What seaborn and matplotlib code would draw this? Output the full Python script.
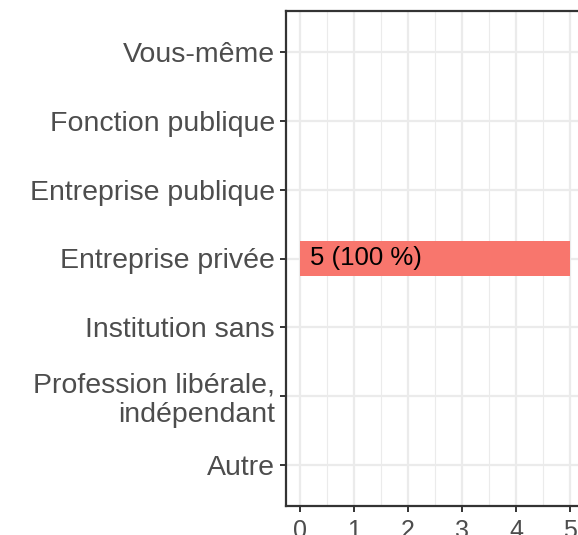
import matplotlib
matplotlib.use("Agg")
import matplotlib.pyplot as plt
import seaborn as sns
import pandas as pd
from matplotlib.ticker import MultipleLocator

categories = ["Vous-même", "Fonction publique", "Entreprise publique",
              "Entreprise privée", "Institution sans",
              "Profession libérale,\nindépendant", "Autre"]
counts = [0, 0, 0, 5, 0, 0, 0]
labels = ["", "", "", "5 (100 %)", "", "", ""]

sns.set_theme(style="white")
plt.rcParams['font.family'] = ['Liberation Sans', 'DejaVu Sans']

df = pd.DataFrame({"cat": categories, "n": counts})

fig = plt.figure(figsize=(5.78, 5.35), dpi=100)
W, H = 578, 535
left, right, top, bottom = 286, 583.5, 11, 506
ax = fig.add_axes([left / W, 1 - bottom / H, (right - left) / W, (bottom - top) / H])

sns.barplot(data=df, x="n", y="cat", order=categories, color="#F8766D",
            saturation=1, width=0.5, ax=ax, zorder=3, edgecolor="none")

for i, (v, lab) in enumerate(zip(counts, labels)):
    if lab:
        ax.text(0.2, i, lab, va="center", ha="left", fontsize=18.5, color="black", zorder=4)

ax.set_xlim(-0.25, 5.25)
ax.set_ylim(6.6, -0.6)
ax.set_xlabel("")
ax.set_ylabel("")
ax.xaxis.set_major_locator(MultipleLocator(1))
ax.xaxis.set_minor_locator(MultipleLocator(0.5))
ax.grid(True, which="major", axis="both", color="#EBEBEB", linewidth=1.6, zorder=0)
ax.grid(True, which="minor", axis="x", color="#EBEBEB", linewidth=0.8, zorder=0)
ax.set_axisbelow(True)

for s in ["left", "bottom", "top", "right"]:
    ax.spines[s].set_visible(True)
    ax.spines[s].set_color("#333333")
    ax.spines[s].set_linewidth(1.6)

ax.tick_params(axis="both", which="major", length=4.5, width=1.4, color="#333333",
               labelcolor="#4D4D4D", left=True, bottom=True)
ax.tick_params(axis="y", pad=3.5, labelsize=20.5)
ax.tick_params(axis="x", pad=5, labelsize=18)
ax.tick_params(axis="x", which="minor", length=0)
for t in ax.get_yticklabels():
    t.set_linespacing(1.15)

fig.savefig("out.png", dpi=100)
